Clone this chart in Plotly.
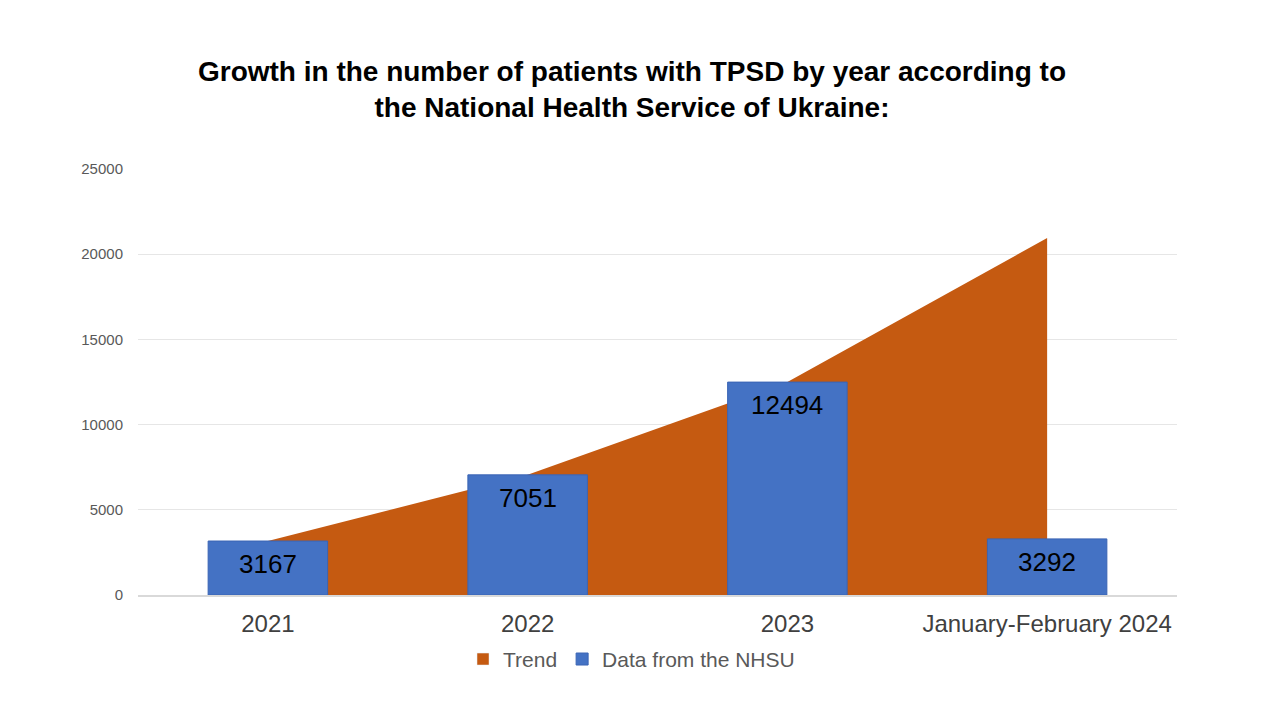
import plotly.graph_objects as go

categories = ["2021", "2022", "2023", "January-February 2024"]
nhsu_values = [3167, 7051, 12494, 3292]
trend_values = [3167, 7051, 12494, 20950]
y_ticks = [0, 5000, 10000, 15000, 20000, 25000]

title_text = ("<b>Growth in the number of patients with TPSD by year according to<br>"
              "the National Health Service of Ukraine:</b>")

TREND_COLOR = "#C55A11"
BAR_COLOR = "#4472C4"

fig = go.Figure()

fig.add_trace(go.Scatter(
    x=categories, y=trend_values, name="Trend",
    mode="none", fill="tozeroy", fillcolor=TREND_COLOR,
    xaxis="x", yaxis="y", hoverinfo="x+y", showlegend=False,
))

# legend entry for the trend area (square symbol)
fig.add_trace(go.Bar(
    x=[None], y=[None], name="Trend", marker=dict(color=TREND_COLOR),
    xaxis="x", yaxis="y2", showlegend=True,
))

fig.add_trace(go.Bar(
    x=categories, y=nhsu_values, name="Data from the NHSU",
    width=0.46,
    marker=dict(color=BAR_COLOR, line=dict(color="#3a64b4", width=1)),
    xaxis="x", yaxis="y2",
))

for i, v in enumerate(nhsu_values):
    fig.add_annotation(
        x=i, y=v, xref="x", yref="y2", yshift=-23,
        text=str(v), showarrow=False,
        font=dict(family="Liberation Sans, Arial", size=26, color="#000000"),
    )

fig.update_layout(
    width=1280, height=720,
    paper_bgcolor="white", plot_bgcolor="white",
    margin=dict(l=130, r=111, t=161, b=133, autoexpand=False),
    title=dict(
        text=title_text, x=0.4875, xanchor="center", y=0.899, yanchor="middle",
        font=dict(family="Liberation Sans, Arial", size=28, color="#000000"),
    ),
    font=dict(family="Liberation Sans, Arial"),
    showlegend=True,
    barmode="overlay",
    legend=dict(
        orientation="h", x=0.475, xanchor="center", y=-0.103, yanchor="top",
        font=dict(size=21, color="#595959"), traceorder="normal",
        itemwidth=30,
    ),
    xaxis=dict(
        type="category", range=[-0.5, 3.5],
        showgrid=False, showline=True, linecolor="#d9d9d9", linewidth=1.5,
        tickfont=dict(size=24, color="#404040"), ticks="", ticklabelstandoff=6,
    ),
    yaxis=dict(
        range=[0, 25000], tickvals=y_ticks, tickformat="d",
        showgrid=True, gridcolor="#e6e6e6", gridwidth=1,
        zeroline=False, showline=False,
        tickfont=dict(size=15, color="#595959"), ticklabelstandoff=14,
    ),
    yaxis2=dict(
        range=[0, 25000], overlaying="y", side="left", visible=False,
        showgrid=False, zeroline=False,
    ),
)

fig.write_html("out.html")
